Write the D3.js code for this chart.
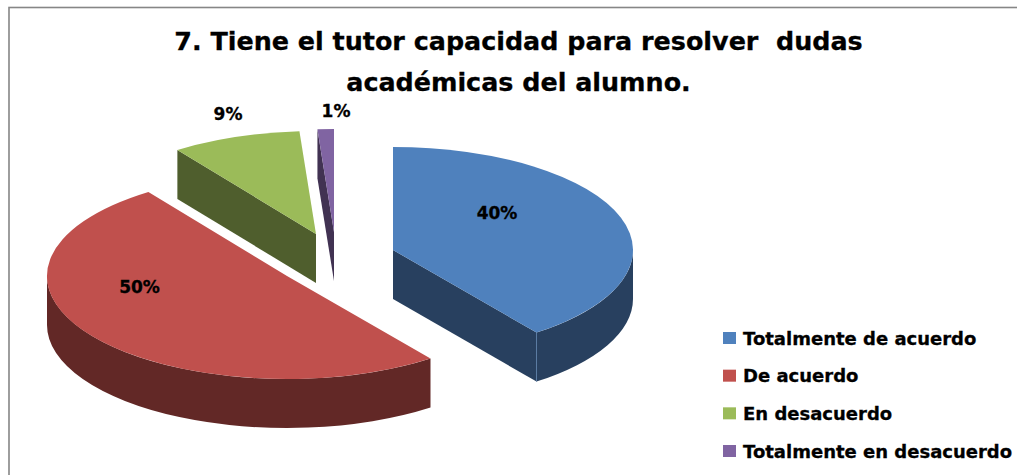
<!DOCTYPE html>
<html><head><meta charset="utf-8">
<script src="https://cdn.jsdelivr.net/npm/d3@7"></script>
<style>html,body{margin:0;padding:0;background:#fff}svg{display:block}text{font-family:"DejaVu Sans",sans-serif;font-weight:700;fill:#000;stroke:#000;stroke-width:.3px}</style>
</head><body><svg id="c" width="1017" height="475"></svg>
<script>
const categories = ["Totalmente de acuerdo","De acuerdo","En desacuerdo","Totalmente en desacuerdo"];
const values = [39.8,50.4,8.7,1.1];
const percentLabels = ["40%","50%","9%","1%"];
const topColors = ["#4f81bd","#c0504d","#9bbb59","#8064a2"];
const wallColors = ["#28405f","#622826","#4f5e2d","#413252"];
const titleLines = ["7. Tiene el tutor capacidad para resolver  dudas","académicas del alumno."];

const W=1017,H=475,rx=240,ry=103,depth=49,k=ry/rx;
const centers=[[393,250],[287,276],[316,234],[334,232]];
const labelPos=[[497,213],[139.5,287],[228,114],[336,111]];
const svg=d3.select("#c");
svg.append("rect").attr("x",9).attr("y",7.5).attr("width",W).attr("height",H).attr("fill","#fff").attr("stroke","#868686").attr("stroke-width",1.6);

const arcs=d3.pie().sort(null).value(d=>d)(values);
const arc=d3.arc().innerRadius(0).outerRadius(rx);
const pt=a=>[rx*Math.sin(a),-rx*Math.cos(a)];
const d=depth/k;

function radialWall(a){const [x,y]=pt(a);const p=d3.path();p.moveTo(0,0);p.lineTo(x,y);p.lineTo(x,y+d);p.lineTo(0,d);p.closePath();return p.toString();}
function rimWall(a0,a1){
  const p=d3.path();const s=a=>a-Math.PI/2;
  const [x0,y0]=pt(a0),[x1,y1]=pt(a1);
  p.moveTo(x0,y0);p.arc(0,0,rx,s(a0),s(a1));p.lineTo(x1,y1+d);p.arc(0,d,rx,s(a1),s(a0),true);p.closePath();return p.toString();
}
const order=[2,3,0,1];
order.forEach(i=>{
  const a=arcs[i];
  const g=svg.append("g").attr("transform",`translate(${centers[i][0]},${centers[i][1]}) scale(1,${k})`);
  if(i===0){
    g.append("path").attr("d",rimWall(Math.PI/2,a.endAngle)).attr("fill",wallColors[i]);
    g.append("path").attr("d",radialWall(a.endAngle)).attr("fill",wallColors[i]);
    const [x,y]=pt(a.endAngle);
    g.append("line").attr("x1",x).attr("y1",y).attr("x2",x).attr("y2",y+d).attr("stroke","#5c7da3").attr("stroke-width",1).attr("vector-effect","non-scaling-stroke");
  }
  if(i===1) g.append("path").attr("d",rimWall(a.startAngle,1.5*Math.PI)).attr("fill",wallColors[i]);
  if(i===2||i===3) g.append("path").attr("d",radialWall(a.startAngle)).attr("fill",wallColors[i]);
  g.append("path").attr("d",arc({startAngle:a.startAngle,endAngle:a.endAngle})).attr("fill",topColors[i]);
});

svg.selectAll("text.t").data(titleLines).join("text").attr("class","t")
  .attr("x",518.5).attr("y",(d,i)=>50+i*41).attr("text-anchor","middle").attr("font-size",25.4).style("white-space","pre").text(d=>d);

svg.selectAll("text.p").data(percentLabels).join("text").attr("class","p")
  .attr("x",(d,i)=>labelPos[i][0]).attr("y",(d,i)=>labelPos[i][1]+6).attr("text-anchor","middle").attr("font-size",17).text(d=>d);

const ly=d3.scalePoint().domain(categories).range([338,451]);
const lg=svg.selectAll("g.l").data(categories).join("g").attr("class","l").attr("transform",d=>`translate(723,${ly(d)})`);
lg.append("rect").attr("x",0).attr("y",-6).attr("width",13).attr("height",12).attr("fill",(d,i)=>topColors[i]).style("stroke","none");
lg.append("text").attr("x",20).attr("y",6.5).attr("font-size",18).text(d=>d);
</script></body></html>
